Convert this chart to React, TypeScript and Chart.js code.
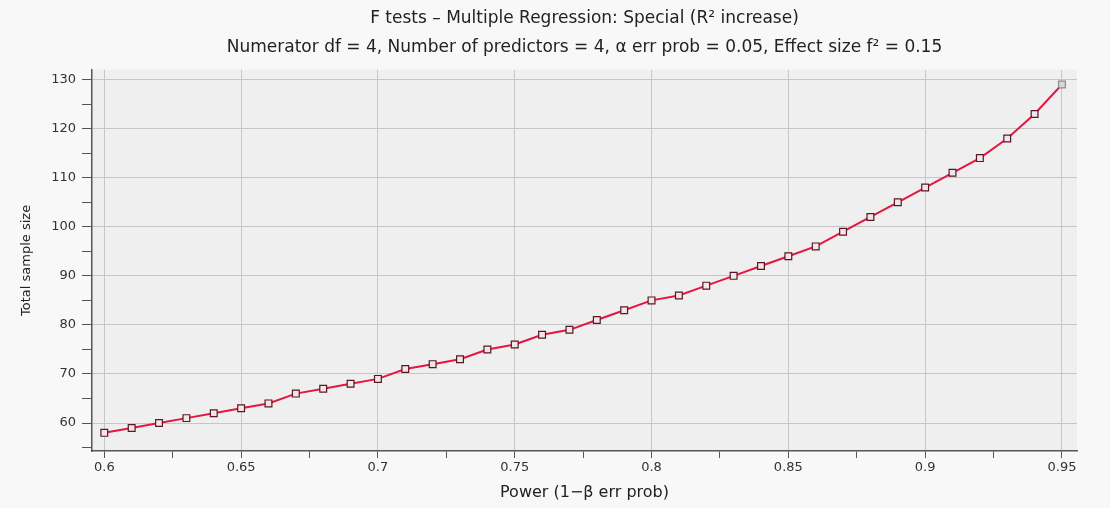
import React, { useEffect, useRef } from "react";
import { Chart, registerables } from "chart.js";

Chart.register(...registerables);

const powerValues = [
  0.6, 0.61, 0.62, 0.63, 0.64, 0.65, 0.66, 0.67, 0.68, 0.69,
  0.7, 0.71, 0.72, 0.73, 0.74, 0.75, 0.76, 0.77, 0.78, 0.79,
  0.8, 0.81, 0.82, 0.83, 0.84, 0.85, 0.86, 0.87, 0.88, 0.89,
  0.9, 0.91, 0.92, 0.93, 0.94, 0.95,
];
const sampleSizes = [
  58, 59, 60, 61, 62, 63, 64, 66, 67, 68,
  69, 71, 72, 73, 75, 76, 78, 79, 81, 83,
  85, 86, 88, 90, 92, 94, 96, 99, 102, 105,
  108, 111, 114, 118, 123, 129,
];
const xMajorTicks = [0.6, 0.65, 0.7, 0.75, 0.8, 0.85, 0.9, 0.95];
const xTickLabels = ["0.6", "0.65", "0.7", "0.75", "0.8", "0.85", "0.9", "0.95"];
const xMinorTicks = [0.625, 0.675, 0.725, 0.775, 0.825, 0.875, 0.925];
const yMajorTicks = [60, 70, 80, 90, 100, 110, 120, 130];
const yTickLabels = ["60", "70", "80", "90", "100", "110", "120", "130"];
const yMinorTicks = [55, 65, 75, 85, 95, 105, 115, 125];

const titleText = "F tests \u2013 Multiple Regression: Special (R\u00b2 increase)";
const subtitleText =
  "Numerator df = 4, Number of predictors = 4, \u03b1 err prob = 0.05, Effect size f\u00b2 = 0.15";
const xTitle = "Power (1\u2212\u03b2 err prob)";
const yTitle = "Total sample size";

const FONT = "'DejaVu Sans', sans-serif";

function majorIndex(list: number[], v: number) {
  return list.findIndex((m) => Math.abs(m - v) < 1e-6);
}

const plotBg = {
  id: "plotBg",
  beforeDraw(chart: any) {
    const { ctx, chartArea } = chart;
    ctx.save();
    ctx.fillStyle = "#efefef";
    ctx.fillRect(chartArea.left, chartArea.top, chartArea.right - chartArea.left, chartArea.bottom - chartArea.top);
    ctx.restore();
  },
};

export default function App() {
  const ref = useRef<HTMLCanvasElement>(null);
  useEffect(() => {
    document.body.style.margin = "0";
    const pts = powerValues.map((p, i) => ({ x: p, y: sampleSizes[i] }));
    const n = pts.length;
    const chart = new Chart(ref.current as HTMLCanvasElement, {
      type: "line",
      data: {
        datasets: [
          {
            data: pts,
            borderColor: "#e3173f",
            borderWidth: 2,
            pointStyle: "rect",
            pointRadius: 4.8,
            pointBorderWidth: 1.2,
            pointBorderColor: pts.map((_, i) => (i === n - 1 ? "#8a8a8a" : "#5a1626")),
            pointBackgroundColor: pts.map((_, i) => (i === n - 1 ? "#d8d8d8" : "#f3e6ea")),
            tension: 0,
          },
        ],
      },
      options: {
        responsive: false,
        animation: false,
        layout: { padding: { left: 0, right: 33, top: 0, bottom: 0 } },
        plugins: {
          legend: { display: false },
          tooltip: { enabled: false },
          title: {
            display: true,
            text: titleText,
            fullSize: false,
            color: "#222",
            font: { family: FONT, size: 17, weight: "normal" },
            padding: { top: 8, bottom: 9 },
          },
          subtitle: {
            display: true,
            text: subtitleText,
            fullSize: false,
            color: "#222",
            font: { family: FONT, size: 17, weight: "normal" },
            padding: { top: 0, bottom: 12 },
          },
        },
        scales: {
          x: {
            type: "linear",
            min: 0.5955,
            max: 0.9555,
            afterBuildTicks: (scale: any) => {
              scale.ticks = [...xMajorTicks, ...xMinorTicks]
                .sort((a, b) => a - b)
                .map((v) => ({ value: v }));
            },
            afterFit: (scale: any) => {
              scale.height = 57;
            },
            ticks: {
              autoSkip: false,
              maxRotation: 0,
              padding: 2,
              color: "#333",
              font: { family: FONT, size: 13 },
              callback: (v: any) => {
                const i = majorIndex(xMajorTicks, Number(v));
                return i >= 0 ? xTickLabels[i] : "";
              },
            },
            grid: {
              color: (ctx: any) =>
                ctx.tick && majorIndex(xMajorTicks, ctx.tick.value) >= 0 ? "#c6c6c6" : "rgba(0,0,0,0)",
              tickColor: "#555",
              tickLength: 7,
              lineWidth: 1,
            },
            border: { color: "#555", width: 1.5 },
            title: {
              display: true,
              text: xTitle,
              color: "#222",
              font: { family: FONT, size: 16 },
              padding: { top: 0, bottom: 6 },
            },
          },
          y: {
            type: "linear",
            min: 54.3,
            max: 132,
            afterBuildTicks: (scale: any) => {
              scale.ticks = [...yMajorTicks, ...yMinorTicks]
                .sort((a, b) => a - b)
                .map((v) => ({ value: v }));
            },
            afterFit: (scale: any) => {
              scale.width = 92;
            },
            ticks: {
              autoSkip: false,
              padding: 6,
              color: "#333",
              font: { family: FONT, size: 13 },
              callback: (v: any) => {
                const i = majorIndex(yMajorTicks, Number(v));
                return i >= 0 ? yTickLabels[i] : "";
              },
            },
            grid: {
              color: (ctx: any) =>
                ctx.tick && majorIndex(yMajorTicks, ctx.tick.value) >= 0 ? "#c6c6c6" : "rgba(0,0,0,0)",
              tickColor: "#555",
              tickLength: 10,
              lineWidth: 1,
            },
            border: { color: "#555", width: 1.5 },
            title: {
              display: true,
              text: yTitle,
              color: "#222",
              font: { family: FONT, size: 13 },
              padding: { top: 19, bottom: 0 },
            },
          },
        },
      },
      plugins: [plotBg],
    } as any);
    return () => chart.destroy();
  }, []);
  return (
    <div style={{ width: 1110, height: 508, background: "#f8f8f8" }}>
      <canvas ref={ref} width={1110} height={508} style={{ width: 1110, height: 508, display: "block" }} />
    </div>
  );
}
